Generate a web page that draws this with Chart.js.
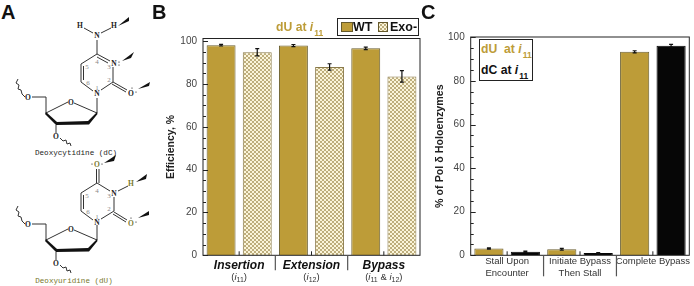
<!DOCTYPE html>
<html>
<head>
<meta charset="utf-8">
<script src="https://cdn.jsdelivr.net/npm/chart.js@4"></script>
<style>
  html, body { margin: 0; background: #fff; overflow: hidden; }
  #page { position: relative; width: 694px; height: 286px; font-family: "Liberation Sans", Arial, sans-serif; }
  canvas { position: absolute; }
  #structs { position: absolute; left: 0; top: 0; }
  .letter { position: absolute; font-size: 20px; font-weight: bold; line-height: 20px; color: #111; }
  .note { position: absolute; font-weight: bold; font-size: 12.2px; line-height: 14px; white-space: nowrap; }
  .note i sub, .sublabel i sub { font-style: normal; }
  .note sub { font-size: 8.5px; position: relative; top: 5px; vertical-align: baseline; margin-left: 1px; }
  .gold { color: #bd9c38; }
  .sublabel { position: absolute; top: 271px; font-size: 9.5px; line-height: 11px; color: #333; transform: translateX(-50%); white-space: nowrap; }
  .sublabel sub { font-size: 7px; vertical-align: baseline; position: relative; top: 2px; }
  .box { position: absolute; border: 1.5px solid #222; box-sizing: border-box; background: #fff; }
  .swatch { position: absolute; top: 3px; height: 10px; box-sizing: border-box; border: 1px solid #665a2c; }
  .legtext { position: absolute; top: 1px; font-size: 12.5px; line-height: 14px; font-weight: bold; color: #111; }
  svg text { font-family: "Liberation Serif", serif; font-weight: bold; font-size: 7.5px; text-anchor: middle; fill: #222; }
  svg text.num { fill: #888; font-weight: normal; font-size: 7px; }
  svg text.name { font-family: "Liberation Mono", monospace; font-weight: normal; font-size: 7.6px; }
  svg .bond { stroke: #333; stroke-width: 1; fill: none; }
  svg .wedge { fill: #111; }
</style>
</head>
<body>
<div id="page">
  <svg id="structs" width="165" height="286" viewBox="0 0 165 286">
    <defs>
      <g id="sugar">
        <path class="bond" d="M97 98V113L74 103M68 102L46 113V97H32M25 97L22 94L21 90L18 89L19 85L16 83L18 79"/>
        <path class="wedge" d="M46 112L57 122L56 125L45 114Z"/>
        <path class="wedge" d="M56 122L88 121L97 112L97.5 114L89 124.5L56 125Z"/>
        <path class="bond" d="M56 125V133M60 138L63 141L66 140L67 144L70 143L71 146"/>
        <text x="71" y="105">O</text><text x="28" y="100">O</text><text x="56" y="139">O</text>
      </g>
      <g id="ring">
        <text x="97" y="96">N</text>
        <path class="bond" d="M93 91L81 82V64L97 54M83.5 80V66"/>
        <text class="num" x="97" y="90">1</text>
        <text class="num" x="109" y="82">2</text>
        <text class="num" x="109" y="69">3</text>
        <text class="num" x="97" y="64">4</text>
        <text class="num" x="87" y="69">5</text>
        <text class="num" x="88" y="85">6</text>
      </g>
    </defs>
    <use href="#sugar"/>
    <use href="#ring"/>
    <path class="bond" d="M97 54V40M93 33L84 28M101 33L111 28M97 54L110 61M97 57L108 63M113 67V82L101 90M113 82L127 90M112 84L126 92"/>
    <text x="80" y="28">H</text><text x="97" y="38">N</text><text x="114" y="28">H</text>
    <text x="114" y="66">N</text><text x="131" y="96">O</text>
    <circle cx="119" cy="62" r=".6"/><circle cx="119" cy="65" r=".6"/><circle cx="136" cy="92" r=".6"/><circle cx="132" cy="88" r=".6"/>
    <path class="wedge" d="M118 26L129 17L129 21Z"/><path class="wedge" d="M122 61L134 52L131 58Z"/><path class="wedge" d="M138 89L150 82L149 86Z"/>
    <text class="name" x="76" y="155">Deoxycytidine (dC)</text>

    <use href="#sugar" y="127"/>
    <use href="#ring" y="129"/>
    <path class="bond" d="M96.5 183V169M99 183V169M97 183L110 191M114 197V211L101 219M114 212L127 220M113 214L126 222M118 191L128 186"/>
    <text x="97" y="167" style="fill:#7a7a30">O</text>
    <text x="114" y="196">N</text><text x="131" y="186" style="fill:#7a7a30">H</text><text x="131" y="226" style="fill:#7a7a30">O</text>
    <circle cx="102" cy="164" r=".6"/><circle cx="92" cy="164" r=".6"/><circle cx="136" cy="222" r=".6"/><circle cx="131" cy="218" r=".6"/>
    <path class="wedge" d="M104 163L116 155L114 161Z"/><path class="wedge" d="M136 182L147 174L146 179Z"/><path class="wedge" d="M138 218L149 211L149 215Z"/>
    <text class="name" x="74" y="283" style="fill:#77772c">Deoxyuridine (dU)</text>
  </svg>

  <canvas id="chartB" width="258" height="256" style="left:165px;top:30px"></canvas>
  <canvas id="chartC" width="260" height="259" style="left:434px;top:27px"></canvas>

  <div class="letter" style="left:1px;top:2px">A</div>
  <div class="letter" style="left:152px;top:2px">B</div>
  <div class="letter" style="left:421px;top:2px">C</div>

  <div class="note gold" style="left:276px;top:20px">dU at <i>i</i><sub>11</sub></div>
  <div class="box" style="left:337px;top:18px;width:82px;height:18px">
    <div class="swatch" style="left:3px;width:12px;background:#bd9c38"></div>
    <div class="legtext" style="left:15px" id="legWT"></div>
    <div class="swatch" id="exoSwatch" style="left:40px;width:10px"></div>
    <div class="legtext" style="left:52px" id="legExo"></div>
  </div>

  <div class="box" style="left:479px;top:39px;width:54px;height:42px">
    <div class="note gold" style="left:1px;top:2px">dU&nbsp; at <i>i</i><sub>11</sub></div>
    <div class="note" style="left:1px;top:23px;color:#111">dC at <i>i</i><sub>11</sub></div>
  </div>
</div>

<script>
const effLabels = ["Insertion", "Extension", "Bypass"];
const effSubs = ["(<i>i</i><sub>11</sub>)", "(<i>i</i><sub>12</sub>)", "(<i>i</i><sub>11</sub> &amp; <i>i</i><sub>12</sub>)"];
const wtNames = "WT";
const exoNames = "Exo-";
const wtValues = [98.2, 98, 96.7];
const wtErrors = [0.4, 0.5, 0.6];
const exoValues = [94.9, 88, 83.6];
const exoErrors = [1.7, 1.5, 2.7];

const holoLabels = [["Stall Upon", "Encounter"], ["Initiate Bypass", "Then Stall"], "Complete Bypass"];
const duValues = [3.1, 2.8, 93.4];
const duErrors = [0.3, 0.4, 0.5];
const dcValues = [1.6, 1, 96.2];
const dcErrors = [0.3, 0.2, 0.6];

const GOLD = "#bd9c38";
const TICK_TEXT = "#444";

function hatchPattern() {
  const c = document.createElement("canvas");
  c.width = 4;
  c.height = 4;
  const g = c.getContext("2d");
  g.fillStyle = "#fbf5da";
  g.fillRect(0, 0, 4, 4);
  g.strokeStyle = "rgba(150,125,60,0.75)";
  g.lineWidth = 0.8;
  g.beginPath();
  g.moveTo(0, 0); g.lineTo(4, 4);
  g.moveTo(4, 0); g.lineTo(0, 4);
  g.stroke();
  return c;
}

// frame, inward ticks, group separators and error bars
const decorations = {
  id: "decorations",
  afterDatasetsDraw(chart, args, opts) {
    const { ctx, chartArea: a, scales: { x, y } } = chart;
    ctx.save();

    chart.data.datasets.forEach((ds, i) => {
      const meta = chart.getDatasetMeta(i);
      ctx.strokeStyle = "#111";
      ctx.lineWidth = 1.2;
      meta.data.forEach((bar, j) => {
        const hi = y.getPixelForValue(ds.data[j] + ds.errors[j]);
        const lo = y.getPixelForValue(ds.data[j] - ds.errors[j]);
        ctx.beginPath();
        ctx.moveTo(bar.x, hi); ctx.lineTo(bar.x, lo);
        ctx.moveTo(bar.x - 2, hi); ctx.lineTo(bar.x + 2, hi);
        ctx.moveTo(bar.x - 2, lo); ctx.lineTo(bar.x + 2, lo);
        ctx.stroke();
      });
    });

    ctx.strokeStyle = "#222";
    ctx.lineWidth = 1;
    ctx.strokeRect(a.left, a.top, a.right - a.left, a.bottom - a.top);

    y.ticks.forEach((t) => {
      if (t.value % 5 !== 0) return;
      const py = Math.round(y.getPixelForValue(t.value)) + 0.5;
      ctx.beginPath();
      ctx.moveTo(a.left, py);
      ctx.lineTo(a.left + (t.value % 20 === 0 ? 5 : 3), py);
      ctx.stroke();
    });

    const step = (a.right - a.left) / x.ticks.length;
    x.ticks.forEach((t, i) => {
      const px = x.getPixelForValue(i);
      ctx.beginPath();
      ctx.moveTo(px, a.bottom);
      ctx.lineTo(px, a.bottom - 4);
      ctx.stroke();
      if (i > 0) {
        ctx.save();
        ctx.strokeStyle = "#555";
        ctx.lineWidth = 1.2;
        ctx.beginPath();
        ctx.moveTo(a.left + step * i, a.bottom);
        ctx.lineTo(a.left + step * i, a.bottom + opts.sepLength);
        ctx.stroke();
        ctx.restore();
      }
    });
    ctx.restore();
  },
};

// keep the plot box where it is, whatever the tick labels overhang
function noOverhang(s) {
  s.paddingTop = 0;
  s.paddingBottom = 0;
  s.paddingLeft = 0;
  s.paddingRight = 0;
}

function yScale(max, title, titleSize, width) {
  return {
    min: 0,
    max: max,
    afterFit: (s) => { s.width = width; noOverhang(s); },
    grid: { display: false, drawTicks: false },
    border: { display: false },
    title: { display: true, text: title, color: "#222", padding: 0, font: { family: "Liberation Sans", size: titleSize, weight: "bold" } },
    ticks: {
      stepSize: 5,
      autoSkip: false,
      includeBounds: false,
      padding: 6,
      color: TICK_TEXT,
      font: { family: "Liberation Sans", size: 10 },
      callback: (v) => (v % 20 === 0 ? v : ""),
    },
  };
}

function barDataset(label, values, errors, fill, edge) {
  return {
    label: label,
    data: values,
    errors: errors,
    backgroundColor: fill,
    borderColor: edge,
    borderWidth: 1,
    categoryPercentage: 1,
    barPercentage: 0.8,
  };
}

const hatch = hatchPattern();
const patternFill = document.createElement("canvas").getContext("2d").createPattern(hatch, "repeat");

const chartB = new Chart(document.getElementById("chartB"), {
  type: "bar",
  data: {
    labels: effLabels,
    datasets: [
      barDataset(wtNames, wtValues, wtErrors, GOLD, "#6b5f30"),
      barDataset(exoNames, exoValues, exoErrors, patternFill, "#8a7a4a"),
    ],
  },
  options: {
    responsive: false,
    animation: false,
    layout: { padding: { top: 8.5, right: 3 } },
    plugins: { legend: { display: false }, tooltip: { enabled: false }, decorations: { sepLength: 15 } },
    scales: {
      x: {
        afterFit: (s) => { s.height = 30.7; noOverhang(s); },
        grid: { display: false, drawTicks: false },
        border: { display: false },
        ticks: { padding: 3, maxRotation: 0, minRotation: 0, color: "#111", font: { family: "Liberation Sans", size: 12, weight: "bold", style: "italic" } },
      },
      y: yScale(101.3, "Efficiency, %", 10.5, 38),
    },
  },
  plugins: [decorations],
});

const chartC = new Chart(document.getElementById("chartC"), {
  type: "bar",
  data: {
    labels: holoLabels,
    datasets: [
      barDataset("dU at i11", duValues, duErrors, GOLD, "#6b5f30"),
      barDataset("dC at i11", dcValues, dcErrors, "#060606", "#060606"),
    ],
  },
  options: {
    responsive: false,
    animation: false,
    layout: { padding: { top: 10, right: 4.7 } },
    plugins: { legend: { display: false }, tooltip: { enabled: false }, decorations: { sepLength: 21 } },
    scales: {
      x: {
        afterFit: (s) => { s.height = 30.7; noOverhang(s); },
        grid: { display: false, drawTicks: false },
        border: { display: false },
        ticks: { padding: 0, maxRotation: 0, minRotation: 0, autoSkip: false, color: "#333", font: { family: "Liberation Sans", size: 9.5, lineHeight: 1.26 } },
      },
      y: yScale(100.2, "% of Pol δ Holoenzymes", 10.7, 36.7),
    },
  },
  plugins: [decorations],
});

// legend text and the small (i11) lines under panel B
const page = document.getElementById("page");
document.getElementById("legWT").textContent = wtNames;
document.getElementById("legExo").textContent = exoNames;
document.getElementById("exoSwatch").style.backgroundImage = "url(" + hatch.toDataURL() + ")";
effSubs.forEach((html, i) => {
  const el = document.createElement("div");
  el.className = "sublabel";
  el.style.left = 165 + chartB.scales.x.getPixelForValue(i) + "px";
  el.innerHTML = html;
  page.appendChild(el);
});
</script>
</body>
</html>
